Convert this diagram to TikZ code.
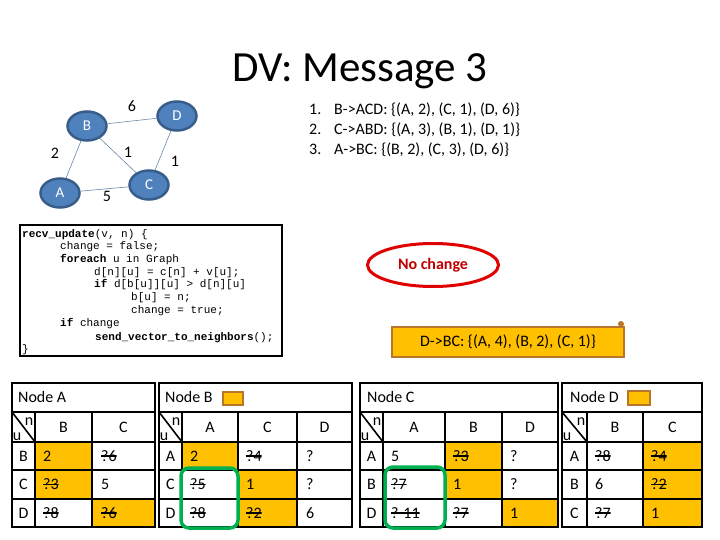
\documentclass[tikz,border=0pt]{standalone}
\usepackage{fontspec}
\setmainfont{Carlito}
\setmonofont{Liberation Mono}
\usetikzlibrary{shapes.geometric}

\definecolor{nodeblue}{HTML}{4F81BD}
\definecolor{nodeedge}{HTML}{385D8A}
\definecolor{tabfill}{HTML}{FFC000}
\definecolor{scrolledge}{HTML}{B8752C}
\definecolor{okgreen}{HTML}{00B050}
\definecolor{alertred}{HTML}{E00000}

\tikzset{
  gnode/.style={ellipse, fill=nodeblue, draw=nodeedge, line width=2.5pt,
    text=white, minimum width=39pt, minimum height=29pt, inner sep=0pt,
    font=\fontsize{15}{15}\selectfont},
  glink/.style={draw=nodeedge!75, line width=0.6pt},
  weight/.style={inner sep=0pt, font=\fontsize{16}{16}\selectfont},
  msg/.style={anchor=base west, inner sep=0pt, font=\fontsize{16}{16}\selectfont},
  codeline/.style={anchor=base west, inner sep=0pt, font=\ttfamily\fontsize{11}{11}\selectfont},
  grid/.style={line width=1.6pt},
  cell/.style={inner sep=0pt, text height=10.5pt, text depth=0pt,
    font=\fontsize{16}{16}\selectfont},
  val/.style={cell, anchor=west},
  old/.style={val, path picture={
    \draw[line width=1.7pt] (path picture bounding box.west) -- (path picture bounding box.east);}},
  mark box/.style={fill=tabfill, draw=scrolledge, line width=2pt},
  round box/.style={draw=okgreen, line width=3.5pt, rounded corners=8pt}
}

\begin{document}
\begin{tikzpicture}[x=1pt,y=-1pt]
  \path[use as bounding box] (0,0) rectangle (720,540);

  \node[anchor=base, inner sep=0pt, font=\fontsize{43}{43}\selectfont] (title) at (360,82) {DV: Message 3};

  % the graph
  \node[gnode] (B) at (87,126) {B};
  \node[gnode] (D) at (177,116) {D};
  \node[gnode] (C) at (149,185) {C};
  \node[gnode] (A) at (60,193) {A};
  \draw[glink] (B) -- (D);
  \draw[glink] (B) -- (A);
  \draw[glink] (B) -- (C);
  \draw[glink] (D) -- (C);
  \draw[glink] (A) -- (C);
  \node[weight] (wBD) at (132,106) {6};
  \node[weight] (wAB) at (55,153) {2};
  \node[weight] (wBC) at (128,152) {1};
  \node[weight] (wCD) at (175,161) {1};
  \node[weight] (wAC) at (107,196) {5};

  % messages so far
  \node[msg] (n1) at (309,115) {1.};
  \node[msg] (m1) at (334,115) {B->ACD: \{(A, 2), (C, 1), (D, 6)\}};
  \node[msg] (n2) at (309,135) {2.};
  \node[msg] (m2) at (334,135) {C->ABD: \{(A, 3), (B, 1), (D, 1)\}};
  \node[msg] (n3) at (309,155) {3.};
  \node[msg] (m3) at (334,155) {A->BC: \{(B, 2), (C, 3), (D, 6)\}};

  % update rule
  \draw[line width=2pt] (20,225) rectangle (282,356);
  \node[codeline] (code1) at (22,237) {\textbf{recv\_update}(v, n) \{};
  \node[codeline] (code2) at (60,249.5) {change = false;};
  \node[codeline] (code3) at (60,262.5) {\textbf{foreach} u in Graph};
  \node[codeline] (code4) at (94,275) {d[n][u] = c[n] + v[u];};
  \node[codeline] (code5) at (94,287.5) {\textbf{if} d[b[u]][u] > d[n][u]};
  \node[codeline] (code6) at (131,300.5) {b[u] = n;};
  \node[codeline] (code7) at (131,313.5) {change = true;};
  \node[codeline] (code8) at (60,326.5) {\textbf{if} change};
  \node[codeline] (code9) at (95,340) {\textbf{send\_vector\_to\_neighbors}();};
  \node[codeline] (code10) at (22,352.5) {\}};

  \node[ellipse, draw=alertred, line width=3pt, minimum width=131pt, minimum height=43pt,
        text=alertred!85!black, font=\bfseries\fontsize{16}{16}\selectfont] (same) at (433,265) {No change};

  \draw[mark box, line width=1.8pt] (392,327) rectangle (624,357);
  \fill[scrolledge] (621,324) circle [radius=3pt];
  \node[inner sep=0pt, font=\fontsize{16}{16}\selectfont] (update) at (508,342) {D->BC: \{(A, 4), (B, 2), (C, 1)\}};

  % orange cells
  \fill[tabfill] (35,442) rectangle (92,470);
  \fill[tabfill] (35,470) rectangle (92,499);
  \fill[tabfill] (92,499) rectangle (155,527);
  \fill[tabfill] (182,442) rectangle (238,470);
  \fill[tabfill] (238,470) rectangle (297,499);
  \fill[tabfill] (238,499) rectangle (297,527);
  \fill[tabfill] (445,442) rectangle (502,470);
  \fill[tabfill] (445,470) rectangle (502,499);
  \fill[tabfill] (502,499) rectangle (558,527);
  \fill[tabfill] (643,442) rectangle (702,527);

  % table grids
  \draw[grid] (12,383) rectangle (155,527);
  \foreach \y in {412,442,470,499} \draw[grid] (12,\y) -- (155,\y);
  \foreach \x in {35,92} \draw[grid] (\x,412) -- (\x,527);

  \draw[grid] (159,383) rectangle (352,527);
  \foreach \y in {412,442,470,499} \draw[grid] (159,\y) -- (352,\y);
  \foreach \x in {182,238,297} \draw[grid] (\x,412) -- (\x,527);

  \draw[grid] (360,383) rectangle (558,527);
  \foreach \y in {412,442,470,499} \draw[grid] (360,\y) -- (558,\y);
  \foreach \x in {383,445,502} \draw[grid] (\x,412) -- (\x,527);

  \draw[grid] (562,383) rectangle (702,527);
  \foreach \y in {412,442,470,499} \draw[grid] (562,\y) -- (702,\y);
  \foreach \x in {587,643} \draw[grid] (\x,412) -- (\x,527);

  \foreach \l/\r in {12/35,159/182,360/383,562/587} {
    \draw[grid] (\l,412) -- (\r,442);
    \node[cell] at (\r-6,420) {n};
    \node[cell] at (\l+5,435) {u};
  }

  % Node A
  \node[val] (tA) at (18,397.5) {Node A};
  \node[cell] (aB) at (63.5,427) {B};
  \node[cell] (aC) at (123.5,427) {C};
  \node[cell] (aRB) at (23.5,456) {B};
  \node[cell] (aRC) at (23.5,484.5) {C};
  \node[cell] (aRD) at (23.5,513) {D};
  \node[val] at (43,456) {2};
  \node[old] at (101,456) {?6};
  \node[old] at (43,484.5) {?3};
  \node[val] at (101,484.5) {5};
  \node[old] at (43,513) {?8};
  \node[old] at (101,513) {?6};

  % Node B
  \node[val] (tB) at (165,397.5) {Node B};
  \draw[mark box] (223,392) rectangle (243,405);
  \node[cell] (bA) at (210,427) {A};
  \node[cell] (bC) at (267.5,427) {C};
  \node[cell] (bD) at (324.5,427) {D};
  \node[cell] (bRA) at (170.5,456) {A};
  \node[cell] (bRC) at (170.5,484.5) {C};
  \node[cell] (bRD) at (170.5,513) {D};
  \node[val] at (190,456) {2};
  \node[old] at (246,456) {?4};
  \node[val] at (306,456) {?};
  \node[old] at (190,484.5) {?5};
  \node[val] at (246,484.5) {1};
  \node[val] at (306,484.5) {?};
  \node[old] at (190,513) {?8};
  \node[old] at (246,513) {?2};
  \node[val] at (306,513) {6};
  \draw[round box] (181,468) rectangle (238,528);

  % Node C
  \node[val] (tC) at (367,397.5) {Node C};
  \node[cell] (cA) at (414,427) {A};
  \node[cell] (cB) at (473.5,427) {B};
  \node[cell] (cD) at (530,427) {D};
  \node[cell] (cRA) at (371.5,456) {A};
  \node[cell] (cRB) at (371.5,484.5) {B};
  \node[cell] (cRD) at (371.5,513) {D};
  \node[val] at (391,456) {5};
  \node[old] at (453,456) {?3};
  \node[val] at (510,456) {?};
  \node[old] at (391,484.5) {?7};
  \node[val] at (453,484.5) {1};
  \node[val] at (510,484.5) {?};
  \node[old] at (391,513) {? 11};
  \node[old] at (453,513) {?7};
  \node[val] at (510,513) {1};
  \draw[round box] (385,467) rectangle (445,528);

  % Node D
  \node[val] (tD) at (570,397.5) {Node D};
  \draw[mark box] (628,391) rectangle (650,405);
  \node[cell] (dB) at (615,427) {B};
  \node[cell] (dC) at (672.5,427) {C};
  \node[cell] (dRA) at (574.5,456) {A};
  \node[cell] (dRB) at (574.5,484.5) {B};
  \node[cell] (dRC) at (574.5,513) {C};
  \node[old] at (595,456) {?8};
  \node[old] at (651,456) {?4};
  \node[val] at (595,484.5) {6};
  \node[old] at (651,484.5) {?2};
  \node[old] at (595,513) {?7};
  \node[val] at (651,513) {1};
\end{tikzpicture}
\end{document}
